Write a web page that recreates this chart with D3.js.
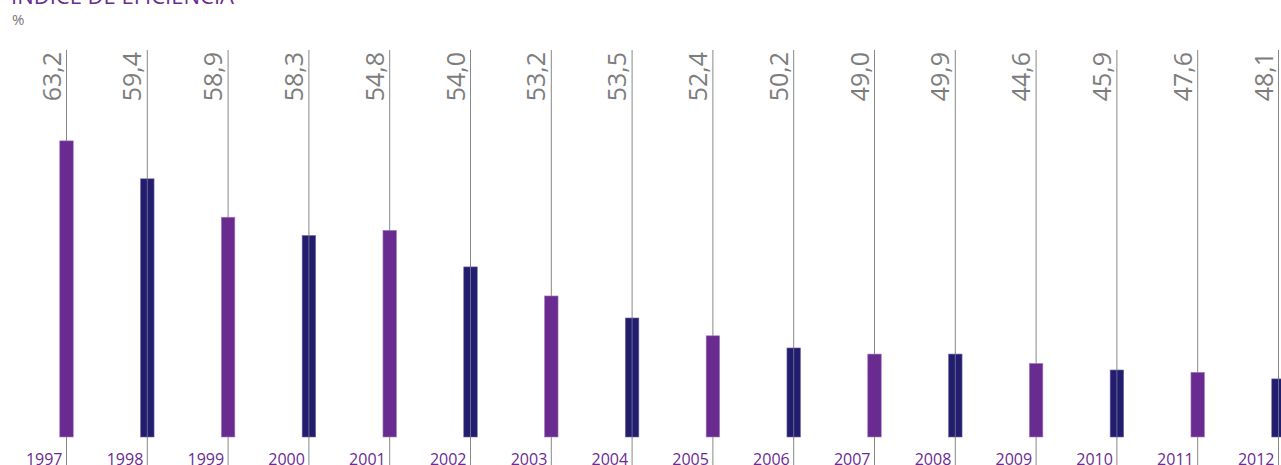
<!DOCTYPE html>
<html>
<head>
<meta charset="utf-8">
<script src="https://cdn.jsdelivr.net/npm/d3@7/dist/d3.min.js"></script>
<style>
	body { margin: 0; background: #fff; }
	svg { display: block; font-family: 'Open Sans', sans-serif; }
</style>
</head>
<body>
<svg id="chart" width="1281" height="465"></svg>
<script>
// años
const years = ['1997', '1998', '1999', '2000', '2001', '2002', '2003', '2004',
	'2005', '2006', '2007', '2008', '2009', '2010', '2011', '2012']
// etiquetas del índice (%)
const labels = ['63,2', '59,4', '58,9', '58,3', '54,8', '54,0', '53,2', '53,5',
	'52,4', '50,2', '49,0', '49,9', '44,6', '45,9', '47,6', '48,1']
// altura de barras tal como se ven en el gráfico
const barValues = [63.2, 55.1, 46.9, 43.0, 44.1, 36.3, 30.1, 25.4,
	21.6, 19.0, 17.7, 17.7, 15.7, 14.3, 13.8, 12.4]

const width = 1281, height = 465
const padding = { top: 50, bottom: 28, left: 66.5, right: 2 }
const purple = '#6a2b90', navy = '#231d6e'

const svg = d3.select('#chart')

const x = d3.scalePoint()
	.domain(years)
	.range([padding.left, width - padding.right - 0.5])

const baseY = height - padding.bottom
const y = d3.scaleLinear()
	.domain([0, 70])
	.range([baseY, baseY - 328])

// titulo (cortado arriba)
svg.append('text')
	.attr('x', 11).attr('y', 4)
	.attr('fill', purple)
	.style('font-size', '22px')
	.text('ÍNDICE DE EFICIENCIA')
svg.append('text')
	.attr('x', 12).attr('y', 25)
	.attr('fill', '#777')
	.style('font-size', '15px')
	.text('%')

// lineas verticales
svg.append('g').selectAll('line')
	.data(years)
	.join('line')
	.attr('x1', d => x(d)).attr('x2', d => x(d))
	.attr('y1', padding.top).attr('y2', height)
	.attr('stroke', '#888')
	.attr('stroke-width', 1)

const bw = 13.5
svg.append('g').selectAll('rect')
	.data(years)
	.join('rect')
	.attr('x', d => x(d) - bw / 2)
	.attr('y', (d, i) => y(barValues[i]))
	.attr('width', bw)
	.attr('height', (d, i) => baseY - y(barValues[i]))
	.attr('fill', (d, i) => i % 2 ? navy : purple)
	.attr('stroke', (d, i) => i % 2 ? '#6e69a8' : '#a57cc0')
	.attr('stroke-width', 0.6)

// la linea se ve a traves de las barras oscuras
svg.append('g').selectAll('line')
	.data(years.filter((d, i) => i % 2))
	.join('line')
	.attr('x1', d => x(d)).attr('x2', d => x(d))
	.attr('y1', (d) => y(barValues[years.indexOf(d)]))
	.attr('y2', baseY)
	.attr('stroke', '#8a8aa8')
	.attr('stroke-opacity', 0.7)

// etiquetas de valor, giradas
svg.append('g').selectAll('text')
	.data(years)
	.join('text')
	.attr('transform', d => `translate(${x(d) - 6},${padding.top + 2}) rotate(-90)`)
	.attr('text-anchor', 'end')
	.attr('fill', '#7d7d7d')
	.style('font-size', '25px')
	.style('font-weight', 400)
	.text((d, i) => labels[i])

// años
svg.append('g').selectAll('text')
	.data(years)
	.join('text')
	.attr('x', d => x(d) - 4)
	.attr('y', height)
	.attr('text-anchor', 'end')
	.attr('fill', purple)
	.style('font-size', '16px')
	.text(d => d)
</script>
</body>
</html>
